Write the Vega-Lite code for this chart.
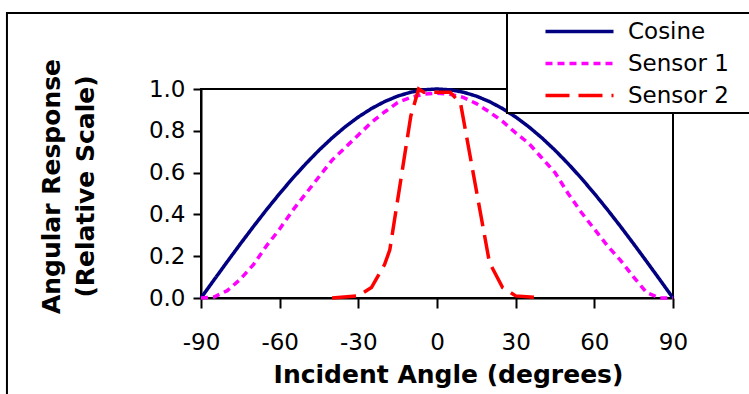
{
  "$schema": "https://vega.github.io/schema/vega-lite/v6.json",
  "width": 472,
  "height": 209,
  "autosize": {"type": "none"},
  "padding": {"left": 201, "top": 89, "right": 76, "bottom": 96},
  "background": "white",
  "config": {
    "font": "DejaVu Sans",
    "view": {"stroke": "black", "strokeWidth": 2},
    "axis": {"grid": false, "domainColor": "black", "domainWidth": 2, "tickColor": "black", "tickWidth": 2, "labelColor": "black", "titleColor": "black", "labelFont": "DejaVu Sans", "titleFont": "DejaVu Sans"}
  },
  "datasets": {
    "curves": [
      {"angle": -90, "response": 0.0, "series": "Cosine"},
      {"angle": -85, "response": 0.0872, "series": "Cosine"},
      {"angle": -80, "response": 0.1736, "series": "Cosine"},
      {"angle": -75, "response": 0.2588, "series": "Cosine"},
      {"angle": -70, "response": 0.342, "series": "Cosine"},
      {"angle": -65, "response": 0.4226, "series": "Cosine"},
      {"angle": -60, "response": 0.5, "series": "Cosine"},
      {"angle": -55, "response": 0.5736, "series": "Cosine"},
      {"angle": -50, "response": 0.6428, "series": "Cosine"},
      {"angle": -45, "response": 0.7071, "series": "Cosine"},
      {"angle": -40, "response": 0.766, "series": "Cosine"},
      {"angle": -35, "response": 0.8192, "series": "Cosine"},
      {"angle": -30, "response": 0.866, "series": "Cosine"},
      {"angle": -25, "response": 0.9063, "series": "Cosine"},
      {"angle": -20, "response": 0.9397, "series": "Cosine"},
      {"angle": -15, "response": 0.9659, "series": "Cosine"},
      {"angle": -10, "response": 0.9848, "series": "Cosine"},
      {"angle": -5, "response": 0.9962, "series": "Cosine"},
      {"angle": 0, "response": 1.0, "series": "Cosine"},
      {"angle": 5, "response": 0.9962, "series": "Cosine"},
      {"angle": 10, "response": 0.9848, "series": "Cosine"},
      {"angle": 15, "response": 0.9659, "series": "Cosine"},
      {"angle": 20, "response": 0.9397, "series": "Cosine"},
      {"angle": 25, "response": 0.9063, "series": "Cosine"},
      {"angle": 30, "response": 0.866, "series": "Cosine"},
      {"angle": 35, "response": 0.8192, "series": "Cosine"},
      {"angle": 40, "response": 0.766, "series": "Cosine"},
      {"angle": 45, "response": 0.7071, "series": "Cosine"},
      {"angle": 50, "response": 0.6428, "series": "Cosine"},
      {"angle": 55, "response": 0.5736, "series": "Cosine"},
      {"angle": 60, "response": 0.5, "series": "Cosine"},
      {"angle": 65, "response": 0.4226, "series": "Cosine"},
      {"angle": 70, "response": 0.342, "series": "Cosine"},
      {"angle": 75, "response": 0.2588, "series": "Cosine"},
      {"angle": 80, "response": 0.1736, "series": "Cosine"},
      {"angle": 85, "response": 0.0872, "series": "Cosine"},
      {"angle": 90, "response": 0.0, "series": "Cosine"},
      {"angle": -90, "response": 0.0, "series": "Sensor 1"},
      {"angle": -85, "response": 0.005, "series": "Sensor 1"},
      {"angle": -80, "response": 0.035, "series": "Sensor 1"},
      {"angle": -75, "response": 0.09, "series": "Sensor 1"},
      {"angle": -70, "response": 0.16, "series": "Sensor 1"},
      {"angle": -65, "response": 0.25, "series": "Sensor 1"},
      {"angle": -60, "response": 0.33, "series": "Sensor 1"},
      {"angle": -55, "response": 0.42, "series": "Sensor 1"},
      {"angle": -50, "response": 0.5, "series": "Sensor 1"},
      {"angle": -45, "response": 0.58, "series": "Sensor 1"},
      {"angle": -40, "response": 0.66, "series": "Sensor 1"},
      {"angle": -35, "response": 0.72, "series": "Sensor 1"},
      {"angle": -30, "response": 0.78, "series": "Sensor 1"},
      {"angle": -25, "response": 0.84, "series": "Sensor 1"},
      {"angle": -20, "response": 0.89, "series": "Sensor 1"},
      {"angle": -15, "response": 0.935, "series": "Sensor 1"},
      {"angle": -10, "response": 0.96, "series": "Sensor 1"},
      {"angle": -5, "response": 0.975, "series": "Sensor 1"},
      {"angle": 0, "response": 0.98, "series": "Sensor 1"},
      {"angle": 5, "response": 0.975, "series": "Sensor 1"},
      {"angle": 10, "response": 0.96, "series": "Sensor 1"},
      {"angle": 15, "response": 0.93, "series": "Sensor 1"},
      {"angle": 20, "response": 0.89, "series": "Sensor 1"},
      {"angle": 25, "response": 0.845, "series": "Sensor 1"},
      {"angle": 30, "response": 0.79, "series": "Sensor 1"},
      {"angle": 35, "response": 0.74, "series": "Sensor 1"},
      {"angle": 40, "response": 0.67, "series": "Sensor 1"},
      {"angle": 45, "response": 0.6, "series": "Sensor 1"},
      {"angle": 50, "response": 0.5, "series": "Sensor 1"},
      {"angle": 55, "response": 0.41, "series": "Sensor 1"},
      {"angle": 60, "response": 0.33, "series": "Sensor 1"},
      {"angle": 65, "response": 0.25, "series": "Sensor 1"},
      {"angle": 70, "response": 0.18, "series": "Sensor 1"},
      {"angle": 75, "response": 0.1, "series": "Sensor 1"},
      {"angle": 80, "response": 0.025, "series": "Sensor 1"},
      {"angle": 85, "response": 0.0, "series": "Sensor 1"},
      {"angle": 90, "response": 0.0, "series": "Sensor 1"},
      {"angle": -40, "response": 0.0, "series": "Sensor 2"},
      {"angle": -30, "response": 0.01, "series": "Sensor 2"},
      {"angle": -25, "response": 0.05, "series": "Sensor 2"},
      {"angle": -20, "response": 0.16, "series": "Sensor 2"},
      {"angle": -18, "response": 0.23, "series": "Sensor 2"},
      {"angle": -10, "response": 0.87, "series": "Sensor 2"},
      {"angle": -7, "response": 1.0, "series": "Sensor 2"},
      {"angle": -5, "response": 0.985, "series": "Sensor 2"},
      {"angle": 5, "response": 0.985, "series": "Sensor 2"},
      {"angle": 9, "response": 0.93, "series": "Sensor 2"},
      {"angle": 20, "response": 0.17, "series": "Sensor 2"},
      {"angle": 25, "response": 0.05, "series": "Sensor 2"},
      {"angle": 30, "response": 0.01, "series": "Sensor 2"},
      {"angle": 40, "response": 0.0, "series": "Sensor 2"}
    ]
  },
  "layer": [
    {
      "data": {"values": [{"frame": "outer"}]},
      "mark": {"type": "rect", "fill": null, "stroke": "black", "strokeWidth": 2, "clip": false},
      "encoding": {
        "x": {"datum": -164, "type": "quantitative"},
        "x2": {"datum": 150},
        "y": {"datum": 1.364, "type": "quantitative"},
        "y2": {"datum": -0.8}
      }
    },
    {
      "data": {"name": "curves"},
      "mark": {"type": "line", "strokeWidth": 3.5, "clip": false},
      "encoding": {
        "x": {
          "field": "angle", "type": "quantitative",
          "scale": {"domain": [-90, 90], "nice": false},
          "axis": {"values": [-90, -60, -30, 0, 30, 60, 90], "labelExpr": "datum.value < 0 ? '-' + abs(datum.value) : '' + datum.value", "tickSize": 10, "labelFontSize": 23, "labelPadding": 23, "labelFlush": false, "title": "Incident Angle (degrees)", "titleFontSize": 25, "titleFontWeight": "bold", "titlePadding": 8, "titleX": 247}
        },
        "y": {
          "field": "response", "type": "quantitative",
          "scale": {"domain": [0, 1], "nice": false},
          "axis": {"values": [0, 0.2, 0.4, 0.6, 0.8, 1.0], "format": ".1f", "tickSize": 8, "labelFontSize": 23, "labelPadding": 8, "title": ["Angular Response", "(Relative Scale)"], "titleFontSize": 25, "titleFontWeight": "bold", "titleLineHeight": 34, "titlePadding": 50, "titleY": 97}
        },
        "color": {
          "field": "series", "type": "nominal",
          "scale": {"domain": ["Cosine", "Sensor 1", "Sensor 2"], "range": ["#000080", "#FF00FF", "#FF0000"]},
          "legend": {"orient": "none", "legendX": 306, "legendY": -76, "title": " ", "titleOrient": "right", "titlePadding": 20, "titleFontSize": 8, "fillColor": "white", "strokeColor": "black", "padding": 5, "symbolType": "M-3,0H3", "symbolSize": 514, "symbolStrokeWidth": 3.5, "symbolOffset": 54, "labelOffset": 35, "labelFontSize": 23, "labelFont": "DejaVu Sans", "labelColor": "black", "rowPadding": 6,
            "encode": {"legend": {"update": {"strokeWidth": {"value": 2}}}}}
        },
        "strokeDash": {
          "field": "series", "type": "nominal",
          "scale": {"domain": ["Cosine", "Sensor 1", "Sensor 2"], "range": [[1, 0], [7, 5], [24, 9]]}
        },
        "order": {"field": "angle", "type": "quantitative"}
      }
    }
  ]
}
